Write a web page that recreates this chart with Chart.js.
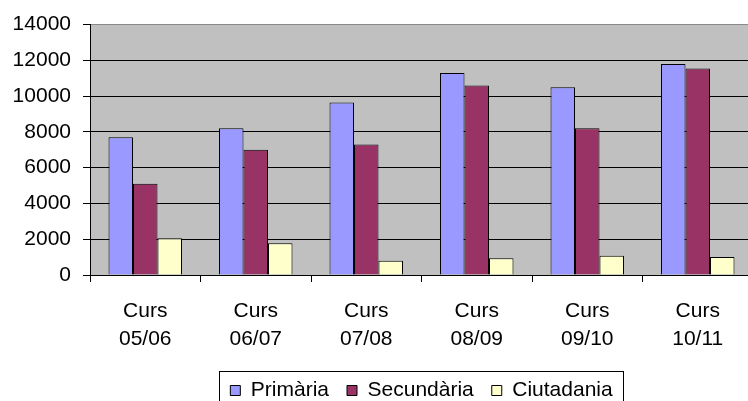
<!DOCTYPE html>
<html>
<head>
<meta charset="utf-8">
<script src="https://cdn.jsdelivr.net/npm/chart.js@4.4.0/dist/chart.umd.min.js"></script>
<style>
  html, body { margin: 0; padding: 0; background: #fff; }
  #wrap { width: 748px; height: 401px; overflow: hidden; position: relative; }
</style>
</head>
<body>
<div id="wrap"><canvas id="cursChart" width="760" height="401"></canvas></div>
<script>
// ---------- DATA ----------
const cursos = [['Curs', '05/06'], ['Curs', '06/07'], ['Curs', '07/08'], ['Curs', '08/09'], ['Curs', '09/10'], ['Curs', '10/11']];
const primaria = [7700, 8200, 9650, 11300, 10500, 11800];
const secundaria = [5100, 7000, 7300, 10600, 8200, 11550];
const ciutadania = [2050, 1780, 800, 930, 1080, 1000];
const yTicks = [0, 2000, 4000, 6000, 8000, 10000, 12000, 14000];

const FONT = "'Liberation Sans', Arial, sans-serif";
const LEGEND_TOP = 362;

// grey plot area like the old Excel charts
const plotBackground = {
    id: 'plotBackground',
    beforeDraw(chart) {
        const { ctx, chartArea: a } = chart;
        ctx.save();
        ctx.fillStyle = '#C0C0C0';
        ctx.fillRect(a.left, a.top, a.right - a.left, a.bottom - a.top);
        ctx.restore();
    }
};

// centre the legend under the plot and draw a frame round it
const legendFrame = {
    id: 'legendFrame',
    afterLayout(chart) {
        const lg = chart.legend;
        const w = lg.right - lg.left;
        const cx = (chart.chartArea.left + chart.chartArea.right) / 2;
        const h = lg.bottom - lg.top;
        lg.left = cx - w / 2;
        lg.right = cx + w / 2;
        lg.top = LEGEND_TOP;
        lg.bottom = LEGEND_TOP + h;
    },
    afterDraw(chart) {
        const boxes = chart.legend.legendHitBoxes;
        if (!boxes || !boxes.length) return;
        const first = boxes[0];
        const last = boxes[boxes.length - 1];
        const left = Math.round(first.left - 11) + 0.5;
        const right = Math.round(last.left + last.width + 10) + 0.5;
        const mid = first.top + first.height / 2;
        const top = Math.round(mid - 20) + 0.5;
        const ctx = chart.ctx;
        ctx.save();
        ctx.strokeStyle = '#000';
        ctx.lineWidth = 1;
        ctx.strokeRect(left, top, right - left, 60);
        ctx.restore();
    }
};

const ctx = document.getElementById('cursChart').getContext('2d');

new Chart(ctx, {
    type: 'bar',
    data: {
        labels: cursos,
        datasets: [
            { label: 'Primària', data: primaria, backgroundColor: '#9999FF' },
            { label: 'Secundària', data: secundaria, backgroundColor: '#993366' },
            { label: 'Ciutadania', data: ciutadania, backgroundColor: '#FFFFCC' }
        ].map(d => Object.assign(d, { borderColor: '#000', borderWidth: 1, borderSkipped: 'bottom' }))
    },
    options: {
        responsive: false,
        animation: false,
        devicePixelRatio: 1,
        layout: { padding: { top: 23, right: 7, bottom: 0, left: 0 } },
        datasets: { bar: { categoryPercentage: 0.665, barPercentage: 1 } },
        scales: {
            x: {
                afterFit(scale) { scale.height = 77; },
                grid: { offset: true, drawOnChartArea: false, color: '#000', tickLength: 7 },
                border: { color: '#000', width: 1 },
                ticks: {
                    color: '#000',
                    padding: 15,
                    maxRotation: 0,
                    autoSkip: false,
                    font: { family: FONT, size: 21, lineHeight: 1.33 }
                }
            },
            y: {
                min: 0,
                max: 14000,
                afterFit(scale) { scale.width = 90; },
                afterBuildTicks(scale) { scale.ticks = yTicks.map(v => ({ value: v })); },
                grid: {
                    color: c => (c.tick && c.tick.value === 14000 ? '#8a8a8a' : '#000'),
                    tickColor: '#000',
                    tickLength: 7
                },
                border: { color: '#000', width: 1 },
                ticks: {
                    color: '#000',
                    padding: 12,
                    font: { family: FONT, size: 21 },
                    callback: v => String(v)
                }
            }
        },
        plugins: {
            legend: {
                position: 'bottom',
                labels: {
                    color: '#000',
                    boxWidth: 10,
                    boxHeight: 10,
                    padding: 18,
                    font: { family: FONT, size: 21 }
                }
            },
            tooltip: { enabled: false }
        }
    },
    plugins: [plotBackground, legendFrame]
});
</script>
</body>
</html>
